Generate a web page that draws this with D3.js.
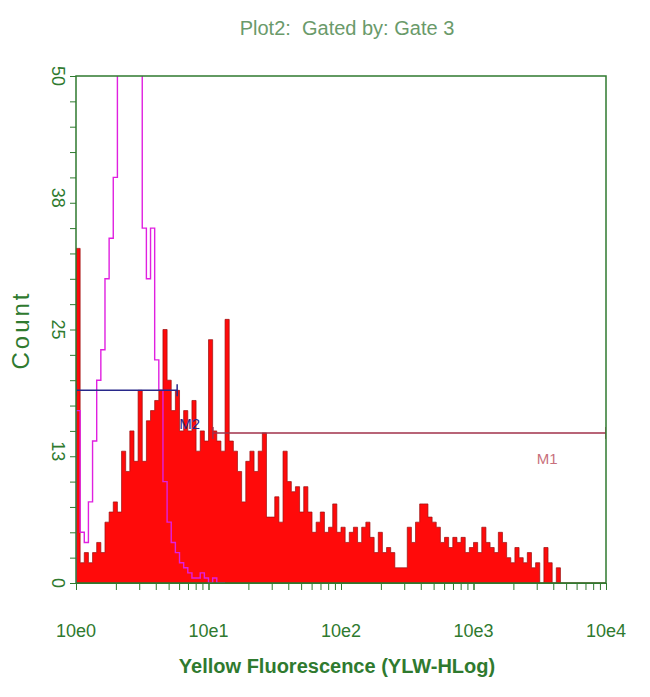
<!DOCTYPE html>
<html><head><meta charset="utf-8">
<script src="https://cdn.jsdelivr.net/npm/d3@7"></script>
<style>body{margin:0;background:#fff}svg{display:block}</style>
</head><body>
<script>
// 128 bins, 1/32 decade each, from 10^0 to 10^4
const binsPerDecade = 32;
const redCounts = [33,2,3,2,3,4,3,6,7,8,7,13,11,15,12,19,12,16,17,18,19,25,20,17,19,15,17,15,18,13,15,14,
  24,15,14,13,26,14,13,11,8,12,13,11,13,14.8,6.5,6.5,8.5,6,13,10,9,9.5,7,9.5,7,5,6,7,5,5.5,7.8,5,5.5,4,
  5,5.5,4,5.5,6,4.5,3,5,3,3.5,3,1.5,1.5,1.5,5.5,4,6,7.8,7.8,6.5,6,5.5,4,4.5,3.5,4.5,4,4.5,3,3.5,4,3,
  5.5,4,3.5,3,5,4,2.5,2,3.5,2.5,2,3,1.5,2,0,3.5,2,0,1.5,0,0,0,0,0,0,0,0,0,0,0];
const magentaCounts = [17,5,4,8,14,20,23,30,34,40,55,60,55,58,55,52,35,30,35,22,19,10,6,4,3,2,1.5,1,0.5,0.5,1,0.5,0,0.5,0,0];
const yTicks = [0,13,25,38,50];
const xTickVals = [1,10,100,1000,10000];
const xTickLabels = ["10e0","10e1","10e2","10e3","10e4"];
const markers = [{name:"M2", lo:1, hi:5.8, y:19, color:"#28288a", lx:7.2, ly:15.2},
                 {name:"M1", lo:10.8, hi:10000, y:14.8, color:"#a0304a", lx:3600, ly:11.7}];

const W=650,H=697, L=76,R=606,T=76,B=583;
const svg=d3.select("body").append("svg").attr("width",W).attr("height",H);
const x=d3.scaleLog().domain([1,10000]).range([L,R]);
const y=d3.scaleLinear().domain([0,50]).range([B,T]);
const green="#2f7a2f";
const edge=i=>Math.pow(10,i/binsPerDecade);

svg.append("defs").append("clipPath").attr("id","c").append("rect").attr("x",L).attr("y",T).attr("width",R-L).attr("height",B-T);
const g=svg.append("g").attr("clip-path","url(#c)");

function stepPts(arr){const p=[[x(edge(0)),y(0)]];arr.forEach((v,i)=>{p.push([x(edge(i)),y(v)]);p.push([x(edge(i+1)),y(v)]);});p.push([x(edge(arr.length)),y(0)]);return p;}
g.append("path").attr("d",d3.line()(stepPts(redCounts))+"Z").attr("fill","#ff0a0a").attr("stroke","#9a1010").attr("stroke-width",0.7);
g.append("path").attr("d",d3.line()(stepPts(magentaCounts))).attr("fill","none").attr("stroke","#e020e0").attr("stroke-width",1.4);

markers.forEach(m=>{
  g.append("line").attr("x1",x(m.lo)).attr("x2",x(m.hi)).attr("y1",y(m.y)).attr("y2",y(m.y)).attr("stroke",m.color).attr("stroke-width",1.5);
  [m.lo,m.hi].forEach(v=>g.append("line").attr("x1",x(v)).attr("x2",x(v)).attr("y1",y(m.y)-6).attr("y2",y(m.y)+6).attr("stroke",m.color).attr("stroke-width",1.5));
  svg.append("text").attr("x",x(m.lx)).attr("y",y(m.ly)).text(m.name).attr("fill",m.name==="M1"?"#c8707c":m.color)
    .attr("font-family","Liberation Sans, Arial").attr("font-size",15).attr("text-anchor","middle");
});

svg.append("rect").attr("x",L).attr("y",T).attr("width",R-L).attr("height",B-T).attr("fill","none").attr("stroke",green).attr("stroke-width",1.5);

const ya=svg.append("g").attr("transform",`translate(${L},0)`).call(d3.axisLeft(y).tickValues(d3.range(0,51,2.5)).tickSize(6).tickFormat(""));
ya.select(".domain").remove(); ya.selectAll("line").attr("stroke",green);
yTicks.forEach(v=>{svg.append("text").attr("transform",`translate(52,${y(v)}) rotate(90)`).attr("text-anchor","middle")
  .attr("fill",green).attr("font-family","Liberation Sans, Arial").attr("font-size",18).text(v);});
const minor=[];for(let d=0;d<4;d++)for(let k=1;k<=10;k++)minor.push(k*Math.pow(10,d));
const xa=svg.append("g").attr("transform",`translate(0,${B})`).call(d3.axisBottom(x).tickValues(minor).tickSize(7).tickFormat(""));
xa.select(".domain").attr("stroke",green); xa.selectAll("line").attr("stroke",green);
xTickVals.forEach((v,i)=>svg.append("text").attr("x",x(v)).attr("y",637).attr("text-anchor","middle").attr("fill",green)
  .attr("font-family","Liberation Sans, Arial").attr("font-size",18).text(xTickLabels[i]));

svg.append("text").attr("x",337).attr("y",673).attr("text-anchor","middle").attr("fill",green).attr("font-weight","bold")
  .attr("font-family","Liberation Sans, Arial").attr("font-size",20).text("Yellow Fluorescence (YLW-HLog)");
svg.append("text").attr("transform","translate(29,330) rotate(-90)").attr("text-anchor","middle").attr("fill",green)
  .attr("font-family","Liberation Sans, Arial").attr("font-size",24).attr("letter-spacing",3).text("Count");
svg.append("text").attr("x",347).attr("y",35).attr("text-anchor","middle").attr("fill","#6a9a6a")
  .attr("font-family","Liberation Sans, Arial").attr("font-size",20).attr("xml:space","preserve").text("Plot2:  Gated by: Gate 3");
</script>
</body></html>
